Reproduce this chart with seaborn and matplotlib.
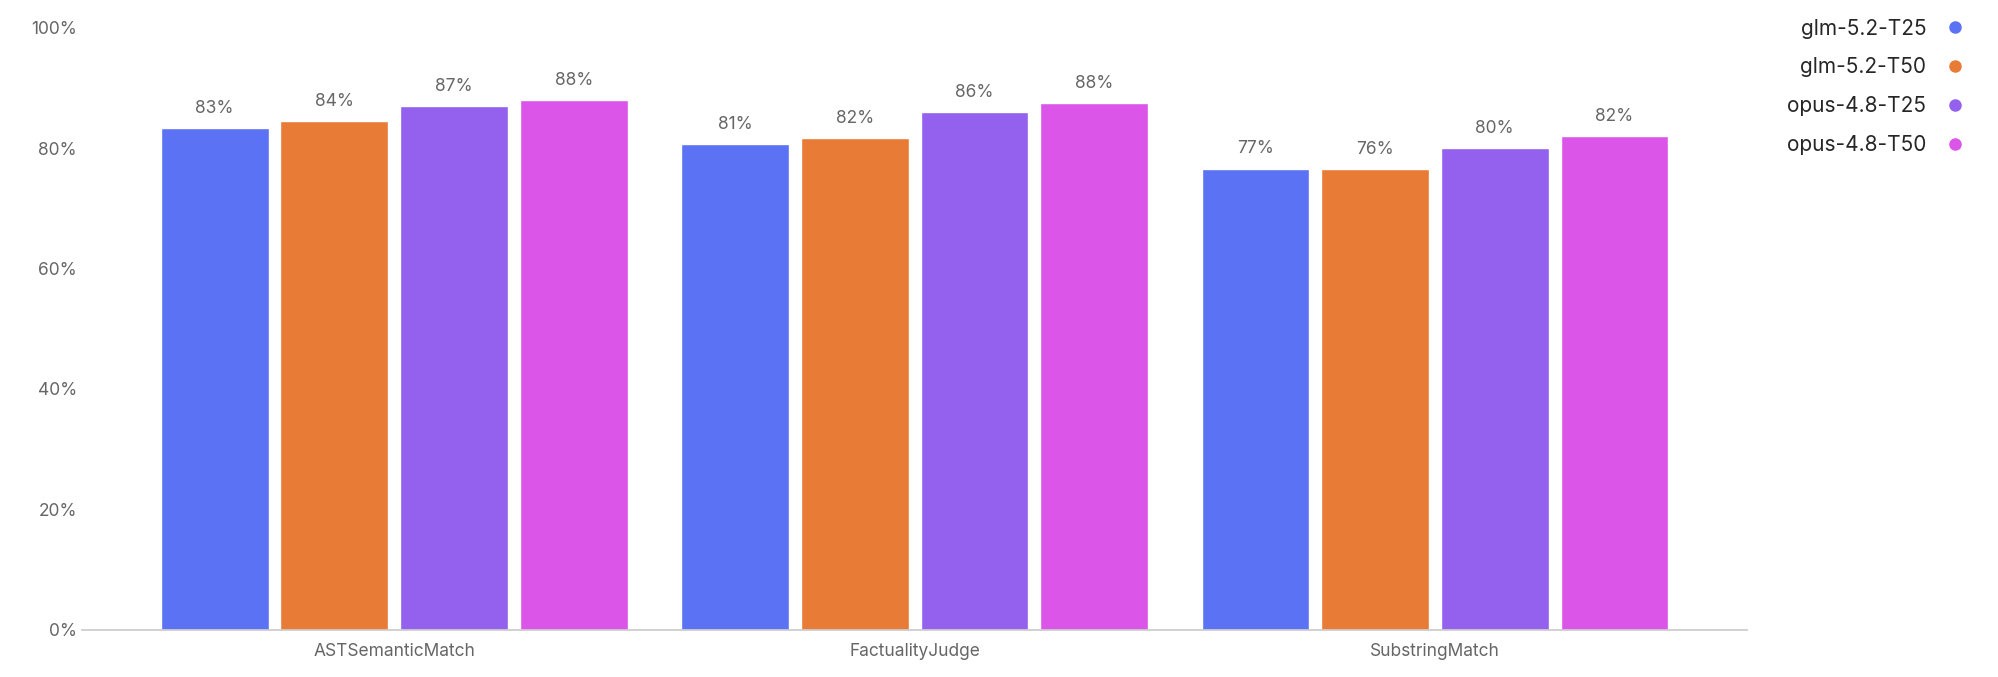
import matplotlib
matplotlib.use("Agg")
import matplotlib.pyplot as plt
import seaborn as sns
import pandas as pd
from matplotlib.lines import Line2D
from matplotlib.ticker import FuncFormatter

categories = ["ASTSemanticMatch", "FactualityJudge", "SubstringMatch"]
series = ["glm-5.2-T25", "glm-5.2-T50", "opus-4.8-T25", "opus-4.8-T50"]
values = {
    "glm-5.2-T25": [83.3, 80.7, 76.6],
    "glm-5.2-T50": [84.5, 81.6, 76.5],
    "opus-4.8-T25": [87.0, 86.0, 80.0],
    "opus-4.8-T50": [88.0, 87.5, 82.0],
}
colors = ["#5b72f5", "#e87b35", "#9461ee", "#db55e8"]

rows = [(c, s, values[s][i]) for s in series for i, c in enumerate(categories)]
df = pd.DataFrame(rows, columns=["metric", "model", "score"])

sns.set_theme(style="white")
plt.rcParams['font.family'] = ['Inter', 'DejaVu Sans']
fig = plt.figure(figsize=(19.99, 6.77), dpi=100)
ax = fig.add_axes([0.041, 0.07, 0.833, 0.889])
sns.barplot(data=df, x="metric", y="score", hue="model", hue_order=series,
            palette=colors, ax=ax, width=0.92, gap=0.1, legend=False, saturation=1)
for cont in ax.containers:
    ax.bar_label(cont, labels=[f"{v:.0f}%" for v in cont.datavalues], padding=8,
                 fontsize=12.5, color="#666666")
ax.set_ylim(0, 100)
ax.set_yticks(range(0, 101, 20))
ax.yaxis.set_major_formatter(FuncFormatter(lambda v, p: f"{v:.0f}%"))
ax.set_xlabel(""); ax.set_ylabel("")
ax.tick_params(axis="both", labelsize=12.5, colors="#666666", length=0)
ax.tick_params(axis="x", length=6, color="#cccccc", pad=4)
for sp in ["top", "right", "left"]:
    ax.spines[sp].set_visible(False)
ax.spines["bottom"].set_color("#cccccc")
ax.set_xlim(-0.6, 2.6)
handles = [Line2D([], [], marker="o", linestyle="", color=c, markersize=8) for c in colors]
fig.legend(handles, series, loc="upper right", bbox_to_anchor=(0.998, 1.0),
           markerfirst=False, frameon=False, fontsize=15, labelspacing=0.9,
           handletextpad=0.4)
fig.savefig("out.png", dpi=100)
